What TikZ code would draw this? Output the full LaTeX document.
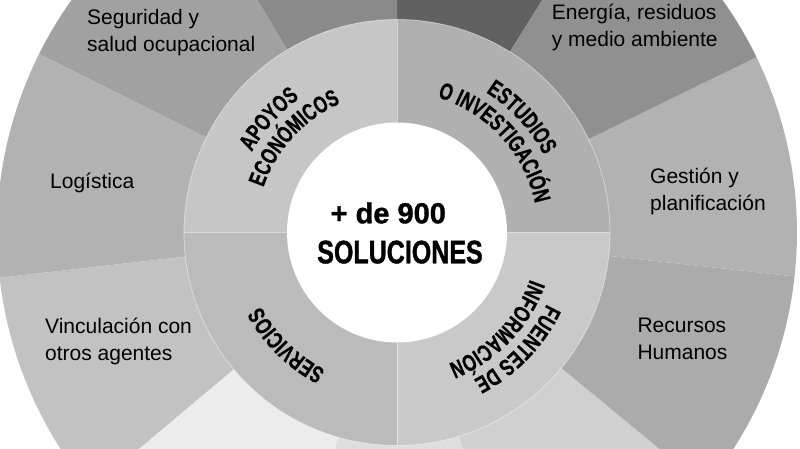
\documentclass[tikz,border=0pt]{standalone}
\usepackage{fontspec}
\setmainfont{Liberation Sans}
\newfontfamily\condfont{Liberation Sans}[FakeStretch=0.77, FakeBold=1.2]
\newfontfamily\numfont{Liberation Sans}[FakeBold=1.2]
\newfontfamily\ringfont{Liberation Sans}[FakeStretch=0.72, FakeBold=0.8]
\usepackage{xcolor}
\usepackage{tikz}
\usetikzlibrary{calc}
\usetikzlibrary{decorations.text}

\definecolor{segTopR}{gray}{0.38}
\definecolor{segTopL}{gray}{0.54}
\definecolor{segSeg}{gray}{0.63}
\definecolor{segLog}{gray}{0.70}
\definecolor{segVinc}{gray}{0.76}
\definecolor{segBotL}{gray}{0.925}
\definecolor{segBotM}{gray}{0.87}
\definecolor{segBotR}{gray}{0.815}
\definecolor{segRec}{gray}{0.67}
\definecolor{segGes}{gray}{0.70}
\definecolor{segEne}{gray}{0.565}
\definecolor{ringApo}{gray}{0.775}
\definecolor{ringEst}{gray}{0.69}
\definecolor{ringFue}{gray}{0.79}
\definecolor{ringSer}{gray}{0.735}

\tikzset{
	lbl/.style={font=\fontsize{21}{27.5}\selectfont, align=left, anchor=base west, inner sep=0pt},
	sep/.style={white, opacity=.45, line width=.8pt},
	ringtxt/.style={decorate, decoration={text along path, text align=center,
		text format delimiters={|}{|},
		text={|\ringfont\bfseries\fontsize{23.5}{23.5}\selectfont|#1}}}
}

\begin{document}
\begin{tikzpicture}[x=1pt,y=1pt]
		\def\rin{110}
		\def\rmid{213}
		\def\rout{400}
		\useasboundingbox (0,0) rectangle (800,449);
		\clip (0,0) rectangle (800,449);
		\coordinate (c) at (397,216.5);
		\fill [segTopR] (c) -- ++(58:\rout) arc[start angle=58, end angle=90, radius=\rout] -- cycle;
		\fill [segTopL] (c) -- ++(90:\rout) arc[start angle=90, end angle=121, radius=\rout] -- cycle;
		\fill [segSeg] (c) -- ++(121:\rout) arc[start angle=121, end angle=153.5, radius=\rout] -- cycle;
		\fill [segLog] (c) -- ++(153.5:\rout) arc[start angle=153.5, end angle=186.5, radius=\rout] -- cycle;
		\fill [segVinc] (c) -- ++(186.5:\rout) arc[start angle=186.5, end angle=220, radius=\rout] -- cycle;
		\fill [segBotL] (c) -- ++(220:\rout) arc[start angle=220, end angle=254, radius=\rout] -- cycle;
		\fill [segBotM] (c) -- ++(254:\rout) arc[start angle=254, end angle=287, radius=\rout] -- cycle;
		\fill [segBotR] (c) -- ++(287:\rout) arc[start angle=287, end angle=320.5, radius=\rout] -- cycle;
		\fill [segRec] (c) -- ++(320.5:\rout) arc[start angle=320.5, end angle=353.7, radius=\rout] -- cycle;
		\fill [segGes] (c) -- ++(-6.3:\rout) arc[start angle=-6.3, end angle=26, radius=\rout] -- cycle;
		\fill [segEne] (c) -- ++(26:\rout) arc[start angle=26, end angle=58, radius=\rout] -- cycle;
		% inner ring
		\fill [ringEst] (c) -- ++(0:\rmid) arc[start angle=0, end angle=90, radius=\rmid] -- cycle;
		\fill [ringApo] (c) -- ++(90:\rmid) arc[start angle=90, end angle=180, radius=\rmid] -- cycle;
		\fill [ringSer] (c) -- ++(180:\rmid) arc[start angle=180, end angle=270, radius=\rmid] -- cycle;
		\fill [ringFue] (c) -- ++(270:\rmid) arc[start angle=270, end angle=360, radius=\rmid] -- cycle;
		\draw [sep] (c) circle (\rmid);
		\foreach \a in {0,90,180,270}
			\draw [sep] ($(c)+(\a:\rin)$) -- ($(c)+(\a:\rmid)$);
		\fill [white] (c) circle (\rin);

		\path [ringtxt=APOYOS] ($(c)+(183.5:166)$) arc[start angle=183.5, end angle=93.5, radius=166];
		\path [ringtxt=ECON{Ó}MICOS] ($(c)+(182.5:141)$) arc[start angle=182.5, end angle=92.5, radius=141];
		\path [ringtxt=ESTUDIOS] ($(c)+(87.7:166)$) arc[start angle=87.7, end angle=-2.3, radius=166];
		\path [ringtxt=O INVESTIGACI{Ó}N] ($(c)+(87.6:141)$) arc[start angle=87.6, end angle=-2.4, radius=141];
		\path [ringtxt=FUENTES DE] ($(c)+(1:166)$) arc[start angle=1, end angle=-89, radius=166];
		\path [ringtxt=INFORMACI{Ó}N] ($(c)+(1:141)$) arc[start angle=1, end angle=-89, radius=141];
		\path [ringtxt=SERVICIOS] ($(c)+(270.5:155)$) arc[start angle=270.5, end angle=180.5, radius=155];

		\node [inner sep=0pt, anchor=base, font=\numfont\bfseries\fontsize{29}{29}\selectfont] (cifra) at (388.3,225.7) {+ de 900};
		\node [inner sep=0pt, anchor=base, font=\condfont\bfseries\fontsize{32.5}{32.5}\selectfont] (soluciones) at (400,185.7) {SOLUCIONES};

		\node [lbl] (seguridad) at (87,397) {Seguridad y\\salud ocupacional};
		\node [lbl] (energia) at (551.7,402.3) {Energía, residuos\\y medio ambiente};
		\node [lbl] (logistica) at (50,260.7) {Logística};
		\node [lbl] (gestion) at (650,238.3) {Gestión y\\planificación};
		\node [lbl] (vinculacion) at (45,88.3) {Vinculación con\\otros agentes};
		\node [lbl] (recursos) at (637.3,89) {Recursos\\Humanos};
	\end{tikzpicture}
\end{document}
